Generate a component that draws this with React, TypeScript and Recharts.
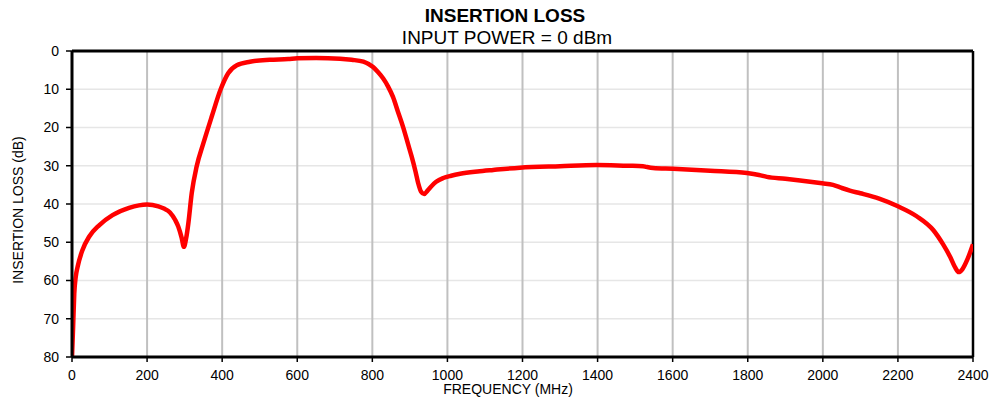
import React from "react";
import {
  LineChart,
  Line,
  XAxis,
  YAxis,
  CartesianGrid,
  ReferenceLine,
} from "recharts";

const frequencies = [
  0, 3, 6, 10, 15, 28, 46, 73, 108, 152, 200, 230, 245, 261, 275, 283, 292, 298,
  304, 310, 319, 332, 350, 372, 396, 416, 439, 474, 527, 576, 600, 650, 714, 745,
  776, 790, 802, 815, 829, 842, 855, 868, 882, 895, 905, 915, 922, 930, 938, 947,
  958, 970, 989, 1010, 1034, 1080, 1122, 1193, 1300, 1398, 1480, 1521, 1530, 1548,
  1601, 1700, 1798, 1830, 1851, 1900, 1950, 1998, 2027, 2050, 2072, 2100, 2150,
  2200, 2250, 2294, 2320, 2339, 2352, 2362, 2372, 2385, 2400,
];

const insertionLoss = [
  80, 72, 63.5, 59, 56.4, 52, 48.5, 45.5, 42.9, 41, 40.1, 40.6, 41.2, 42.2, 44.2,
  45.9, 48.8, 51.2, 49, 45, 37.1, 30.2, 24.1, 17.2, 10, 5.8, 3.7, 2.8, 2.3, 2.1,
  1.9, 1.8, 2.0, 2.3, 2.8, 3.4, 4.2, 5.5, 7.2, 9.3, 12, 15.8, 19.9, 24.3, 27.7,
  31.5, 34.5, 36.8, 37.4, 36.5, 35.3, 34.2, 33.2, 32.6, 32.1, 31.5, 31.1, 30.5,
  30.1, 29.8, 30, 30.1, 30.3, 30.6, 30.8, 31.3, 31.9, 32.4, 32.9, 33.4, 34, 34.6,
  35, 35.8, 36.5, 37.2, 38.6, 40.6, 43.2, 46.8, 50.5, 53.8, 56.5, 57.8, 57.0, 54.5,
  50.5,
];

const xTicks = [0, 200, 400, 600, 800, 1000, 1200, 1400, 1600, 1800, 2000, 2200, 2400];
const yTicks = [0, 10, 20, 30, 40, 50, 60, 70, 80];

const title = "INSERTION LOSS";
const subtitle = "INPUT POWER = 0 dBm";
const xLabel = "FREQUENCY (MHz)";
const yLabel = "INSERTION LOSS (dB)";

const data = frequencies.map((f, i) => ({ freq: f, loss: insertionLoss[i] }));

const FONT = "'Liberation Sans', Arial, sans-serif";

export default function App() {
  return (
    <div
      style={{
        position: "absolute",
        left: 0,
        top: 0,
        width: 995,
        height: 400,
        background: "#fff",
        fontFamily: FONT,
      }}
    >
      <LineChart
        width={995}
        height={400}
        data={data}
        margin={{ top: 51, right: 22, bottom: 0, left: 0 }}
      >
        <CartesianGrid
          vertical={false}
          stroke="#e6e6e6"
          strokeWidth={1.5}
        />
        <CartesianGrid
          horizontal={false}
          stroke="#c0c0c0"
          strokeWidth={2}
          verticalValues={xTicks}
        />
        <XAxis
          dataKey="freq"
          type="number"
          domain={[0, 2400]}
          ticks={xTicks}
          interval={0}
          height={43}
          allowDataOverflow
          axisLine={{ stroke: "#000", strokeWidth: 3 }}
          tickLine={{ stroke: "#000", strokeWidth: 1.5 }}
          tickSize={5}
          tickMargin={8}
          tick={{ fill: "#000", fontSize: 14, fontFamily: FONT }}
        />
        <YAxis
          type="number"
          domain={[0, 80]}
          ticks={yTicks}
          reversed
          interval={0}
          allowDataOverflow
          width={72}
          axisLine={{ stroke: "#000", strokeWidth: 3 }}
          tickLine={{ stroke: "#000", strokeWidth: 1.5 }}
          tickSize={6}
          tickMargin={7}
          tick={{ fill: "#000", fontSize: 14, fontFamily: FONT }}
        />
        <ReferenceLine y={0} stroke="#000" strokeWidth={3} />
        <ReferenceLine x={2400} stroke="#000" strokeWidth={2.5} />
        <Line
          dataKey="loss"
          type="monotone"
          stroke="#ff0000"
          strokeWidth={4.5}
          dot={false}
          isAnimationActive={false}
        />
      </LineChart>
      <div
        style={{
          position: "absolute",
          left: 505,
          top: 5,
          transform: "translateX(-50%)",
          fontSize: 19,
          fontWeight: "bold",
          whiteSpace: "nowrap",
          lineHeight: "22px",
          color: "#000",
        }}
      >
        {title}
      </div>
      <div
        style={{
          position: "absolute",
          left: 507,
          top: 27,
          transform: "translateX(-50%)",
          fontSize: 19,
          whiteSpace: "nowrap",
          lineHeight: "22px",
          color: "#000",
        }}
      >
        {subtitle}
      </div>
      <div
        style={{
          position: "absolute",
          left: 508,
          top: 381,
          transform: "translateX(-50%)",
          fontSize: 14,
          whiteSpace: "nowrap",
          lineHeight: "16px",
          color: "#000",
        }}
      >
        {xLabel}
      </div>
      <div
        style={{
          position: "absolute",
          left: 18,
          top: 210,
          transform: "translate(-50%, -50%) rotate(-90deg)",
          fontSize: 14,
          whiteSpace: "nowrap",
          lineHeight: "16px",
          color: "#000",
        }}
      >
        {yLabel}
      </div>
    </div>
  );
}
